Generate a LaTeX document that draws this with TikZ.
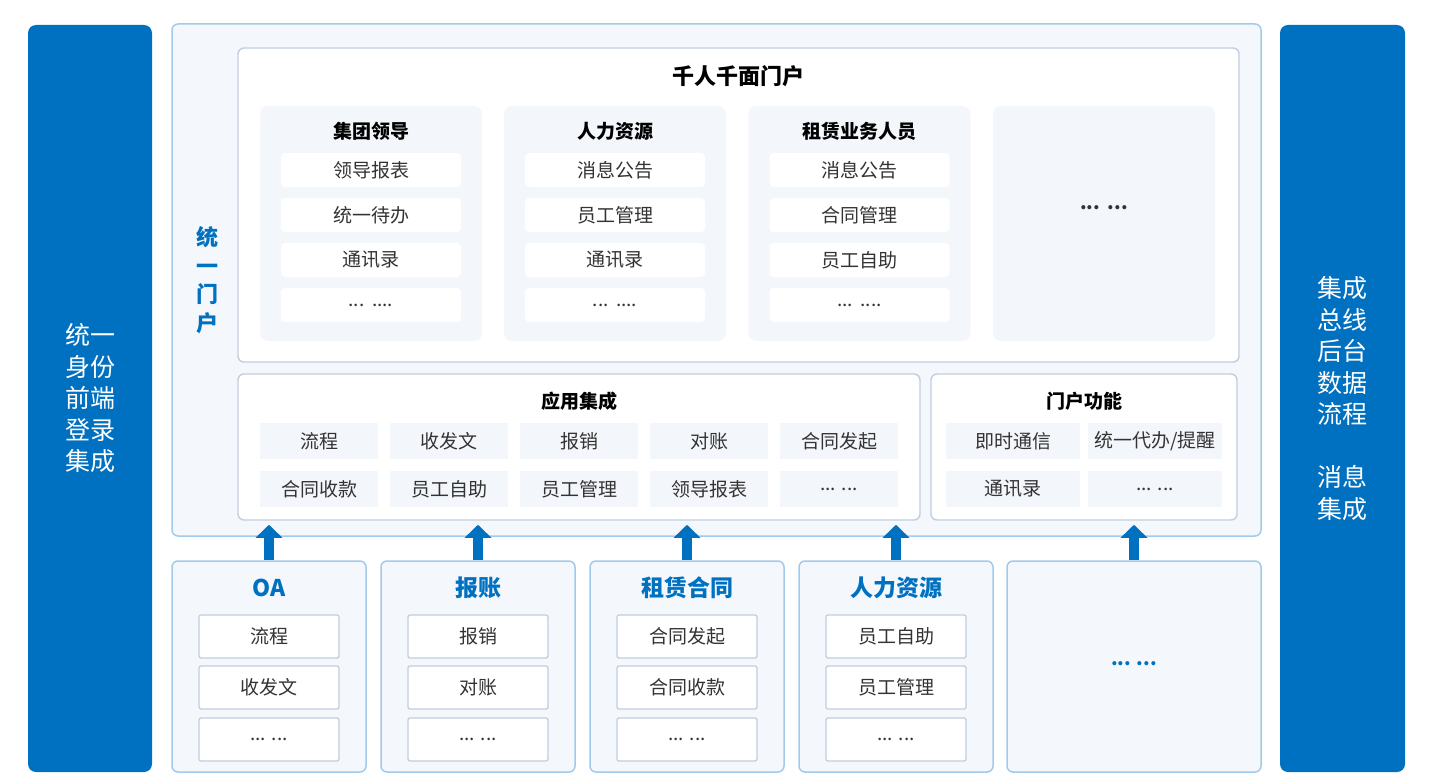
\documentclass[tikz,border=0pt]{standalone}
\usepackage{fontspec}
\setmainfont{Noto Sans CJK SC}
\usetikzlibrary{arrows.meta}

\definecolor{mainblue}{HTML}{0070C0}
\definecolor{framefill}{HTML}{F4F8FC}
\definecolor{frameline}{HTML}{A2CAEC}
\definecolor{boxline}{HTML}{C2CDE0}
\definecolor{cellfill}{HTML}{F3F6FB}
\definecolor{itemtext}{HTML}{333333}

% ellipsis texts (kept out of \foreach lists)
\newcommand{\dotsmore}{...\hspace{0.4em}....}
\newcommand{\dotspair}{... ...}

\begin{document}
\begin{tikzpicture}[x=1pt,y=-1pt,
    bar/.style={fill=mainblue, rounded corners=8pt, text=white, align=center,
        font=\fontsize{25}{31.5}\selectfont, inner sep=0pt},
    frame/.style={draw=frameline, fill=framefill, line width=1.5pt, rounded corners=6pt, inner sep=0pt},
    panel/.style={draw=boxline, fill=white, line width=1.4pt, rounded corners=6pt, inner sep=0pt},
    group/.style={fill=cellfill, rounded corners=8pt, inner sep=0pt, minimum width=222pt, minimum height=235pt},
    chip/.style={fill=white, rounded corners=4pt, minimum width=180pt, minimum height=34pt,
        inner sep=0pt, text=itemtext, font=\fontsize{19}{22}\selectfont},
    tile/.style={fill=cellfill, minimum height=36pt, inner sep=0pt, text=itemtext,
        font=\fontsize{19}{22}\selectfont},
    slot/.style={draw=boxline, fill=white, line width=1.3pt, rounded corners=2pt, minimum width=140pt,
        minimum height=43pt, inner sep=0pt, text=itemtext, font=\fontsize{19}{22}\selectfont},
    head/.style={font=\bfseries\fontsize{19}{22}\selectfont},
    bluehead/.style={text=mainblue, font=\bfseries\fontsize{23}{26}\selectfont},
    uparrow/.style={mainblue, line width=10pt, -{Triangle[width=26pt,length=13pt]}}]

    % Page
    \useasboundingbox (0,0) rectangle (1430,776);

    % Side bars
    \node[bar, minimum width=124pt, minimum height=747pt] (idbar) at (90,398.5)
        {统一\\身份\\前端\\登录\\集成};
    \node[bar, minimum width=125pt, minimum height=747pt] (busbar) at (1342.5,398.5)
        {集成\\总线\\后台\\数据\\流程\\~\\消息\\集成};

    % Unified portal frame
    \node[frame, minimum width=1089pt, minimum height=512pt] (portal) at (716.5,280) {};
    \node[text=mainblue, align=center, font=\bfseries\fontsize{22}{28.5}\selectfont] (portaltag) at (207,280)
        {统\\一\\门\\户};

    % Personalized portal
    \node[panel, minimum width=1001pt, minimum height=314pt] (faces) at (738.5,205) {};
    \node[font=\bfseries\fontsize{22}{26}\selectfont] (facestitle) at (738.5,76) {千人千面门户};

    \foreach \name/\x/\title/\a/\b/\c in {
        lead/371/集团领导/领导报表/统一待办/通讯录,
        hr/615/人力资源/消息公告/员工管理/通讯录,
        lease/859.5/租赁业务人员/消息公告/合同管理/员工自助} {
        \node[group] (\name) at (\x,223.5) {};
        \node[head] (\name-title) at (\x,131) {\title};
        \node[chip] (\name-1) at (\x,170) {\a};
        \node[chip] (\name-2) at (\x,215) {\b};
        \node[chip] (\name-3) at (\x,260) {\c};
        \node[chip] (\name-4) at (\x,305) {\dotsmore};
    }
    \node[group] (others) at (1104,223.5) {};
    \node[text=itemtext, font=\bfseries\fontsize{19}{22}\selectfont] (others-dots) at (1104,208)
        {...\hspace{0.4em}...};

    % Application integration
    \node[panel, minimum width=682pt, minimum height=146pt] (appint) at (579,447) {};
    \node[head] (appint-title) at (579,401) {应用集成};
    \foreach \x/\a/\b [count=\i] in {319/流程/合同收款, 449/收发文/员工自助, 579/报销/员工管理,
        709/对账/领导报表, 839/合同发起/\dotspair} {
        \node[tile, minimum width=118pt] (app-\i-a) at (\x,441) {\a};
        \node[tile, minimum width=118pt] (app-\i-b) at (\x,489) {\b};
    }

    % Portal functions
    \node[panel, minimum width=306pt, minimum height=146pt] (func) at (1084,447) {};
    \node[head] (func-title) at (1084,401) {门户功能};
    \node[tile, minimum width=134pt] (func-1) at (1013,441) {即时通信};
    \node[tile, minimum width=134pt] (func-2) at (1155,441) {统一代办/提醒};
    \node[tile, minimum width=134pt] (func-3) at (1013,489) {通讯录};
    \node[tile, minimum width=134pt] (func-4) at (1155,489) {\dotspair};

    % Business systems
    \foreach \name/\x/\title/\a/\b in {oa/269/OA/流程/收发文, exp/478/报账/报销/对账,
        cont/687/租赁合同/合同发起/合同收款, staff/896/人力资源/员工自助/员工管理} {
        \node[frame, minimum width=194pt, minimum height=211pt] (\name) at (\x,666.5) {};
        \node[bluehead] (\name-title) at (\x,588) {\title};
        \node[slot] (\name-1) at (\x,636.5) {\a};
        \node[slot] (\name-2) at (\x,687.5) {\b};
        \node[slot] (\name-3) at (\x,739.5) {\dotspair};
    }
    \node[frame, minimum width=254pt, minimum height=211pt] (more) at (1134,666.5) {};
    \node[text=mainblue, font=\bfseries\fontsize{19}{22}\selectfont] (more-dots) at (1134,664) {\dotspair};

    % Arrows up into the portal
    \foreach \name in {oa,exp,cont,staff,more}
        \draw[uparrow] (\name.north) -- ([yshift=12pt]portal.south -| \name.north);

\end{tikzpicture}
\end{document}
